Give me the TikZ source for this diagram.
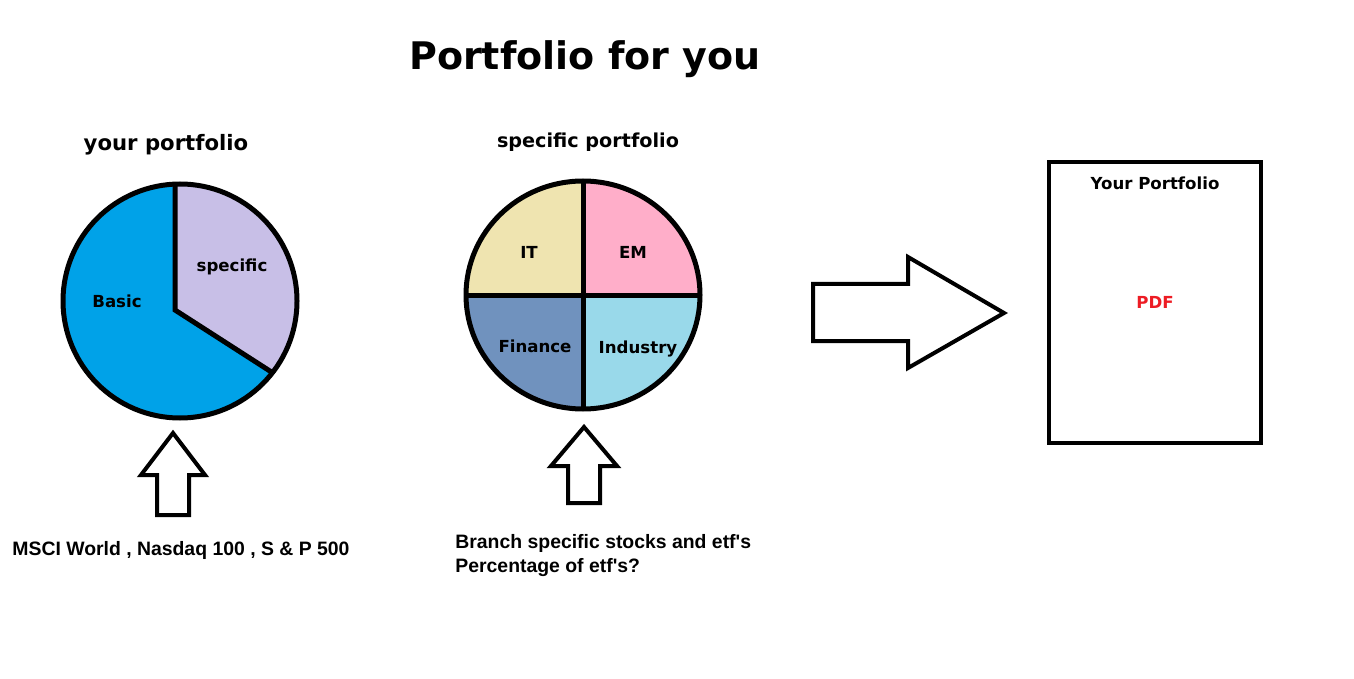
\documentclass[tikz,border=0pt]{standalone}
\usepackage{fontspec}
\setmainfont{DejaVu Sans}
\newfontfamily\notefont{Liberation Sans}
\usetikzlibrary{positioning}

\definecolor{basicblue}{RGB}{0,162,232}
\definecolor{speclav}{RGB}{200,191,231}
\definecolor{ityellow}{RGB}{239,228,176}
\definecolor{empink}{RGB}{255,174,201}
\definecolor{finblue}{RGB}{112,146,190}
\definecolor{indcyan}{RGB}{153,217,234}
\definecolor{pdfred}{RGB}{237,28,36}

\begin{document}
\begin{tikzpicture}[x=0.5pt, y=-0.5pt,
        heading/.style={anchor=base, font=\bfseries\fontsize{10.6}{12}\selectfont},
        slice/.style={anchor=base, font=\bfseries\fontsize{8.3}{10}\selectfont},
        note/.style={anchor=base west, inner sep=0pt, font=\notefont\bfseries\fontsize{9.7}{12}\selectfont},
        blockarrow/.style={draw, line width=2pt, fill=white},
        rim/.style={line width=2.5pt}]
        \useasboundingbox[fill=white] (0,0) rectangle (1354,679);

        \node[anchor=base, font=\bfseries\fontsize{19}{23}\selectfont] (title) at (585,70) {Portfolio for you};

        % your portfolio pie
        \node[heading] (yourhead) at (166,151) {your portfolio};
        \fill[basicblue] (180,301) circle (117);
        \begin{scope}
            \clip (180,301) circle (117);
            \fill[speclav] (175,310) -- (175,150) -- (330,150) -- (330,410) -- cycle;
        \end{scope}
        \draw[rim] (175,184) -- (175,310) -- (273,373);
        \draw[rim] (180,301) circle (117);
        \node[slice] (basic) at (117,307) {Basic};
        \node[slice] (specific) at (232,271) {specific};

        % specific portfolio pie
        \node[heading, font=\bfseries\fontsize{9.6}{12}\selectfont] (spechead) at (588,148) {specific portfolio};
        \begin{scope}
            \clip (583,295) ellipse (117 and 114);
            \foreach \col/\dx/\dy in {ityellow/-1/-1, empink/1/-1, finblue/-1/1, indcyan/1/1}
                \fill[\col] (583,295) rectangle ++(130*\dx,130*\dy);
        \end{scope}
        \draw[rim] (583,181) -- (583,409) (466,295) -- (700,295);
        \draw[rim] (583,295) ellipse (117 and 114);
        \node[slice] (it) at (529,258) {IT};
        \node[slice] (em) at (633,258) {EM};
        \node[slice] (finance) at (535,352) {Finance};
        \node[slice] (industry) at (638,353) {Industry};

        % block arrows
        \draw[blockarrow] (173,433) -- (205,475) -- (189,475) -- (189,515) -- (157,515) -- (157,475) -- (141,475) -- cycle;
        \draw[blockarrow] (584,427) -- (617,466) -- (600,466) -- (600,503) -- (568,503) -- (568,466) -- (551,466) -- cycle;
        \draw[blockarrow] (813,284) -- (908,284) -- (908,257) -- (1004,313) -- (908,368) -- (908,341) -- (813,341) -- cycle;

        % result
        \node[draw, rectangle, line width=2.2pt, minimum width=106pt, minimum height=140.5pt] (pdfdoc) at (1155,302.5) {};
        \node[slice] (yourpf) at (1155,190) {Your Portfolio};
        \node[slice, text=pdfred] (pdf) at (1155,308) {PDF};

        % sources
        \node[note] (basicsrc) at (12,555) {MSCI World , Nasdaq 100 , S \& P 500};
        \node[note] (specsrc) at (455,548) {Branch specific stocks and etf\textquotesingle s};
        \node[note] (pctsrc) at (455,572) {Percentage of etf\textquotesingle s?};
    \end{tikzpicture}
\end{document}
